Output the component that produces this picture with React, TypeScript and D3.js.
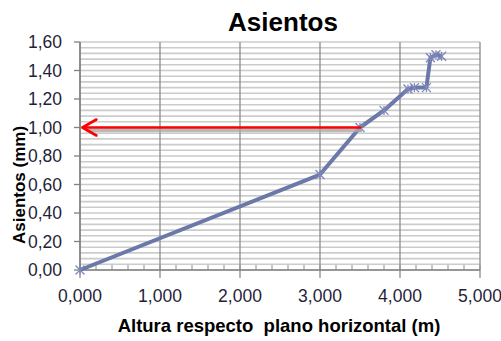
import React from "react";
import * as d3 from "d3";

const heights = [0, 3.0, 3.5, 3.8, 4.1, 4.18, 4.33, 4.38, 4.45, 4.52];
const settlements = [0, 0.67, 1.0, 1.12, 1.27, 1.28, 1.28, 1.49, 1.51, 1.5];
const xTicks = [0, 1, 2, 3, 4, 5];
const yTicks = [0, 0.2, 0.4, 0.6, 0.8, 1.0, 1.2, 1.4, 1.6];
const arrowFrom = [3.5, 1.0];
const arrowTo = [0.03, 1.0];
const title = "Asientos";
const xTitle = "Altura respecto  plano horizontal (m)";
const yTitle = "Asientos (mm)";

const W = 501, H = 341;
const M = { left: 80, right: 21, top: 42, bottom: 71 };

export default function App() {
  const x = d3.scaleLinear().domain([0, 5]).range([M.left, W - M.right]);
  const y = d3.scaleLinear().domain([0, 1.6]).range([H - M.bottom, M.top]);
  const minorY = d3.range(0, 1.6001, 0.04);
  const minorX = d3.range(0, 5.0001, 0.2);
  const line = d3.line<number>().x((_, i) => x(heights[i])).y((d) => y(d));
  const fmtX = (v: number) => d3.format(".3f")(v).replace(".", ",");
  const fmtY = (v: number) => d3.format(".2f")(v).replace(".", ",");
  const font = "'Liberation Sans', Arial, sans-serif";
  const x0 = x(0), x1 = x(5), y0 = y(0), y1 = y(1.6);
  const ay = y(arrowFrom[1]);
  const ax0 = x(arrowFrom[0]);
  const ax1 = x(arrowTo[0]);
  return (
    <svg width={W} height={H} style={{ position: "absolute", left: 0, top: 0, background: "#fff" }} fontFamily={font}>
      {minorY.map((v, i) => (
        <line key={"my" + i} x1={x0} x2={x1} y1={y(v)} y2={y(v)} stroke="#cccccc" strokeWidth={1.6} />
      ))}
      {xTicks.map((v) => (
        <line key={"gx" + v} x1={x(v)} x2={x(v)} y1={y1} y2={y0 + 8} stroke="#8c8c8c" strokeWidth={1.3} />
      ))}
      {minorX.map((v, i) => (
        <line key={"mx" + i} x1={x(v)} x2={x(v)} y1={y0 - 5} y2={y0} stroke="#8c8c8c" strokeWidth={1} />
      ))}
      <line x1={x0} x2={x0} y1={y1} y2={y0} stroke="#808080" strokeWidth={1.5} />
      <line x1={x0} x2={x1} y1={y0} y2={y0} stroke="#808080" strokeWidth={1.5} />
      {yTicks.map((v) => (
        <line key={"ty" + v} x1={x0 - 6} x2={x0} y1={y(v)} y2={y(v)} stroke="#808080" strokeWidth={1.3} />
      ))}
      {yTicks.map((v) => (
        <text key={"ly" + v} x={x0 - 18} y={y(v)} dy="0.35em" textAnchor="end" fontSize={17.5} fill="#1f1f3a">
          {fmtY(v)}
        </text>
      ))}
      {xTicks.map((v) => (
        <text key={"lx" + v} x={x(v)} y={y0 + 32} textAnchor="middle" fontSize={17.5} fill="#1f1f3a">
          {fmtX(v)}
        </text>
      ))}
      <path d={line(settlements) || ""} fill="none" stroke="#6c78aa" strokeWidth={4} strokeLinejoin="round" />
      {settlements.map((v, i) => {
        const cx = x(heights[i]), cy = y(v), s = 4.5;
        return (
          <g key={"m" + i} stroke="#7d88b8" strokeWidth={1.3}>
            <line x1={cx - s} y1={cy - s} x2={cx + s} y2={cy + s} />
            <line x1={cx - s} y1={cy + s} x2={cx + s} y2={cy - s} />
            <line x1={cx} y1={cy - s} x2={cx} y2={cy + s} />
          </g>
        );
      })}
      <g transform="translate(2,3)" stroke="#a8a8a8" strokeWidth={3.5} fill="none" opacity={0.8}>
        <line x1={ax1 + 2} x2={ax0} y1={ay} y2={ay} />
      </g>
      <g stroke="#ff0000" strokeWidth={2.6} fill="none" strokeLinecap="round" strokeLinejoin="round">
        <line x1={ax0} x2={ax1 + 1} y1={ay} y2={ay} />
        <polyline points={`${ax1 + 14},${ay - 8} ${ax1},${ay} ${ax1 + 14},${ay + 8}`} />
      </g>
      <text x={283} y={31} textAnchor="middle" fontSize={26} fontWeight="bold" fill="#000">{title}</text>
      <text x={279} y={332} textAnchor="middle" fontSize={18.5} fontWeight="bold" fill="#000" style={{ whiteSpace: "pre" }}>{xTitle}</text>
      <text transform={`translate(25,185) rotate(-90)`} textAnchor="middle" fontSize={17} fontWeight="bold" fill="#000">{yTitle}</text>
    </svg>
  );
}
